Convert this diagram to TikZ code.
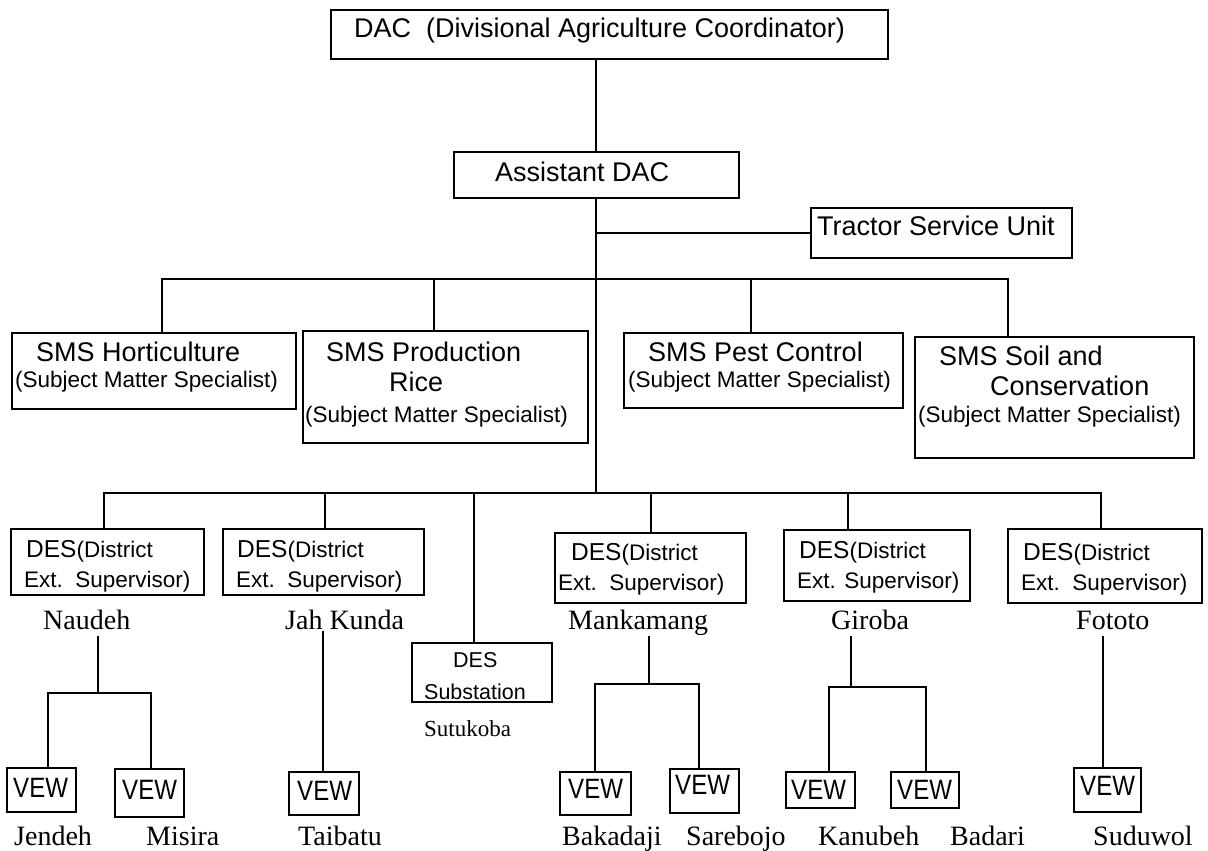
\documentclass[tikz,border=0pt]{standalone}
\usepackage{fontspec}
\setmainfont{Liberation Serif}
\setsansfont{Liberation Sans}
\newfontfamily\vewfamily[FakeStretch=0.86]{Liberation Sans}
\usetikzlibrary{fit}
\newcommand\fbig{\sffamily\fontsize{27}{30}\selectfont}
\newcommand\fsmall{\sffamily\fontsize{22.5}{26}\selectfont}
\newcommand\fdes{\sffamily\fontsize{24.5}{28}\selectfont}
\newcommand\fsubst{\sffamily\fontsize{21.5}{25}\selectfont}
\newcommand\fvew{\vewfamily\fontsize{28}{30}\selectfont}
\newcommand\fplace{\rmfamily\fontsize{28}{30}\selectfont}
\newcommand\fplacesm{\rmfamily\fontsize{23}{26}\selectfont}
\tikzset{
  box/.style={draw, line width=1.6pt, inner sep=0pt},
  txt/.style={anchor=base west, inner sep=0pt},
  big/.style={txt, font=\fbig},
  small/.style={txt, font=\fsmall},
  dest/.style={txt, font=\fsmall},
  vewt/.style={txt, font=\fvew},
  place/.style={txt, font=\fplace},
  conn/.style={line width=1.6pt, line cap=rect},
}
\begin{document}
\begin{tikzpicture}[x=1pt,y=-1pt]
\useasboundingbox (0,0) rectangle (1208,851);
% top boxes
\node[box, fit={(331,10)(888,59)}] (dac) {};
\node[big] (dact) at (354,38) {DAC~~(Divisional Agriculture Coordinator)};
\node[box, fit={(454,152)(739,198)}] (asst) {};
\node[big] (asstt) at (495,181) {Assistant DAC};
\node[box, fit={(811,208)(1072,258)}] (tsu) {};
\node[big] (tsut) at (817,235) {Tractor Service Unit};
% SMS boxes
\node[box, fit={(12,333)(296,409)}] (hort) {};
\node[big] (hort1) at (36,361) {SMS Horticulture};
\node[small] (hort2) at (15,387) {(Subject Matter Specialist)};
\node[box, fit={(303,331)(588,443)}] (rice) {};
\node[big] (rice1) at (326,361) {SMS Production};
\node[big] (rice2) at (389,391) {Rice};
\node[small] (rice3) at (305,422) {(Subject Matter Specialist)};
\node[box, fit={(624,333)(903,408)}] (pest) {};
\node[big] (pest1) at (648,361) {SMS Pest Control};
\node[small] (pest2) at (628,387) {(Subject Matter Specialist)};
\node[box, fit={(915,337)(1194,458)}] (soil) {};
\node[big] (soil1) at (939,365) {SMS Soil and};
\node[big] (soil2) at (990,395) {Conservation};
\node[small] (soil3) at (918,422) {(Subject Matter Specialist)};
% DES boxes
\node[box, fit={(11,529)(204,595)}] (des1) {};
\node[dest] (d1a) at (26,557) {{\fdes DES}(District};
\node[dest] (d1b) at (24,587) {Ext.~~Supervisor)};
\node[box, fit={(223,529)(424,595)}] (des2) {};
\node[dest] (d2a) at (237,557) {{\fdes DES}(District};
\node[dest] (d2b) at (236,587) {Ext.~~Supervisor)};
\node[box, fit={(555,533)(746,603)}] (des3) {};
\node[dest] (d3a) at (571,560) {{\fdes DES}(District};
\node[dest] (d3b) at (558,590) {Ext.~~Supervisor)};
\node[box, fit={(784,530)(970,601)}] (des4) {};
\node[dest] (d4a) at (799,558) {{\fdes DES}(District};
\node[dest] (d4b) at (797,588) {Ext. Supervisor)};
\node[box, fit={(1008,529)(1202,603)}] (des5) {};
\node[dest] (d5a) at (1023,560) {{\fdes DES}(District};
\node[dest] (d5b) at (1021,590) {Ext.~~Supervisor)};
% place names
\node[place] (naudeh) at (43,629) {Naudeh};
\node[place] (jahkunda) at (285,629) {Jah Kunda};
\node[place] (mankamang) at (568,629) {Mankamang};
\node[place] (giroba) at (831,629) {Giroba};
\node[place] (fototo) at (1076,629) {Fototo};
% substation
\node[box, fit={(412,643)(552,702)}] (sub) {};
\node[txt, font=\fsubst] (subt1) at (453,667) {DES};
\node[txt, font=\fsubst] (subt2) at (424,699) {Substation};
\node[txt, font=\fplacesm] (sutukoba) at (424,736) {Sutukoba};
% VEW boxes
\node[box, fit={(7,768)(76,812)}] (v1) {};
\node[vewt] (v1t) at (13,797) {VEW};
\node[box, fit={(115,769)(184,817)}] (v2) {};
\node[vewt] (v2t) at (122,799) {VEW};
\node[box, fit={(289,772)(359,815)}] (v3) {};
\node[vewt] (v3t) at (297,800) {VEW};
\node[box, fit={(560,772)(631,815)}] (v4) {};
\node[vewt] (v4t) at (568,798) {VEW};
\node[box, fit={(670,769)(739,813)}] (v5) {};
\node[vewt] (v5t) at (675,794) {VEW};
\node[box, fit={(786,772)(855,808)}] (v6) {};
\node[vewt] (v6t) at (791,799) {VEW};
\node[box, fit={(891,772)(959,808)}] (v7) {};
\node[vewt] (v7t) at (897,799) {VEW};
\node[box, fit={(1074,768)(1141,812)}] (v8) {};
\node[vewt] (v8t) at (1080,795) {VEW};
% bottom labels
\node[place] (jendeh) at (14,845) {Jendeh};
\node[place] (misira) at (146,845) {Misira};
\node[place] (taibatu) at (298,845) {Taibatu};
\node[place] (bakadaji) at (562,845) {Bakadaji};
\node[place] (sarebojo) at (686,845) {Sarebojo};
\node[place] (kanubeh) at (818,845) {Kanubeh};
\node[place] (badari) at (950,845) {Badari};
\node[place] (suduwol) at (1093,845) {Suduwol};
% junction coordinates
\coordinate (tx) at (596,0);
\coordinate (sb1) at (162,279);
\coordinate (sb2) at (434,279);
\coordinate (sb4) at (751,279);
\coordinate (sb5) at (1008,279);
\coordinate (db1) at (104,493);
\coordinate (db2) at (325,493);
\coordinate (db3) at (474,493);
\coordinate (db4) at (651,493);
\coordinate (db5) at (848,493);
\coordinate (db6) at (1101,493);
\coordinate (n0) at (98,637);
\coordinate (nb) at (98,693);
\coordinate (nl) at (48,693);
\coordinate (nr) at (151,693);
\coordinate (j0) at (323,632);
\coordinate (m0) at (649,637);
\coordinate (mb) at (649,684);
\coordinate (ml) at (595,684);
\coordinate (mr) at (699,684);
\coordinate (g0) at (851,637);
\coordinate (gb) at (851,687);
\coordinate (gl) at (829,687);
\coordinate (gr) at (926,687);
\coordinate (f0) at (1103,637);
% connectors
\draw[conn] (tx |- dac.south) -- (tx |- asst.north);
\draw[conn] (tx |- asst.south) -- (tx |- db1);
\draw[conn] (tx |- tsu.west) -- (tsu.west);
\draw[conn] (sb1) -- (sb5);
\draw[conn] (sb1) -- (sb1 |- hort.north);
\draw[conn] (sb2) -- (sb2 |- rice.north);
\draw[conn] (sb4) -- (sb4 |- pest.north);
\draw[conn] (sb5) -- (sb5 |- soil.north);
\draw[conn] (db1) -- (db6);
\draw[conn] (db1) -- (db1 |- des1.north);
\draw[conn] (db2) -- (db2 |- des2.north);
\draw[conn] (db3) -- (db3 |- sub.north);
\draw[conn] (db4) -- (db4 |- des3.north);
\draw[conn] (db5) -- (db5 |- des4.north);
\draw[conn] (db6) -- (db6 |- des5.north);
\draw[conn] (n0) -- (nb);
\draw[conn] (nl) -- (nr);
\draw[conn] (nl) -- (nl |- v1.north);
\draw[conn] (nr) -- (nr |- v2.north);
\draw[conn] (j0) -- (j0 |- v3.north);
\draw[conn] (m0) -- (mb);
\draw[conn] (ml) -- (mr);
\draw[conn] (ml) -- (ml |- v4.north);
\draw[conn] (mr) -- (mr |- v5.north);
\draw[conn] (g0) -- (gb);
\draw[conn] (gl) -- (gr);
\draw[conn] (gl) -- (gl |- v6.north);
\draw[conn] (gr) -- (gr |- v7.north);
\draw[conn] (f0) -- (f0 |- v8.north);
\end{tikzpicture}
\end{document}
